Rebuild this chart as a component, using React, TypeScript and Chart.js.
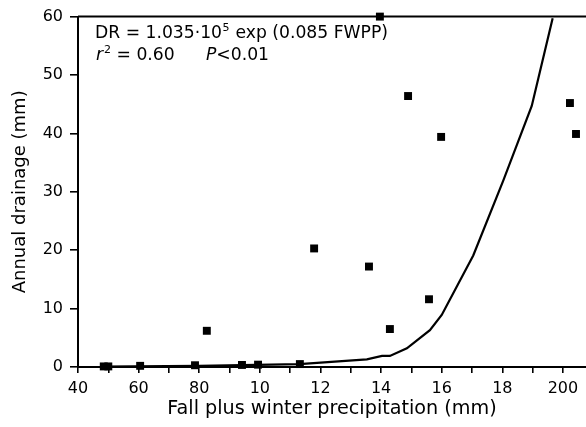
import React, { useEffect, useRef } from "react";
import { Chart, registerables } from "chart.js";

Chart.register(...registerables);

// Scatter observations (fall+winter precipitation, annual drainage)
const obsX = [485, 500, 605, 786, 825, 941, 994, 1132, 1179, 1360, 1396, 1429, 1489, 1558, 1598, 2023, 2043];
const obsY = [0.1, 0.1, 0.2, 0.3, 6.2, 0.35, 0.4, 0.5, 20.3, 17.2, 60, 6.5, 46.4, 11.6, 39.4, 45.2, 39.9];

// Fitted curve vertices
const fitX = [480, 800, 1130, 1353, 1403, 1429, 1485, 1561, 1600, 1704, 1803, 1897, 1919, 1966];
const fitY = [0.05, 0.2, 0.5, 1.3, 1.9, 1.9, 3.2, 6.3, 8.9, 19.1, 31.9, 44.7, 49.5, 59.7];

// Axis ticks
const majorTickValues = [400, 600, 800, 1000, 1200, 1400, 1600, 1800, 2000];
const majorTickLabels = ["40", "60", "80", "10", "12", "14", "16", "18", "200"];
const minorTickValues = [500, 700, 900, 1100, 1300, 1500, 1700, 1900];
const xMin = 400;
const xMax = 2076;
const yMin = 0;
const yMax = 60;
const yStep = 10;

const xTitle = "Fall plus winter precipitation (mm)";
const yTitle = "Annual drainage (mm)";

const FONT = "'DejaVu Sans', sans-serif";

const annotationPlugin = {
  id: "annot",
  afterDraw(chart: any) {
    const { ctx, chartArea } = chart;
    ctx.save();
    // top frame line
    ctx.strokeStyle = "#000";
    ctx.lineWidth = 2;
    ctx.beginPath();
    ctx.moveTo(chartArea.left, chartArea.top);
    ctx.lineTo(chartArea.right, chartArea.top);
    ctx.stroke();

    ctx.fillStyle = "#000";
    ctx.textBaseline = "alphabetic";
    ctx.textAlign = "left";
    const big = `17.2px ${FONT}`;
    const small = `11px ${FONT}`;
    // line 1
    let x = 95;
    let y = 38;
    ctx.font = big;
    const p1 = "DR = 1.035\u00b710";
    ctx.fillText(p1, x, y);
    x += ctx.measureText(p1).width;
    ctx.font = small;
    ctx.fillText("5", x + 0.5, y - 7);
    x += ctx.measureText("5").width + 1;
    ctx.font = big;
    ctx.fillText(" exp (0.085 FWPP)", x, y);
    // line 2
    x = 96;
    y = 60;
    ctx.font = `italic 17.2px ${FONT}`;
    ctx.fillText("r", x, y);
    x += ctx.measureText("r").width + 1;
    ctx.font = small;
    ctx.fillText("2", x, y - 7);
    x += ctx.measureText("2").width;
    ctx.font = big;
    ctx.fillText(" = 0.60", x, y);
    x = 206;
    ctx.font = `italic 17.2px ${FONT}`;
    ctx.fillText("P", x, y);
    x += ctx.measureText("P").width;
    ctx.font = big;
    ctx.fillText("<0.01", x, y);
    ctx.restore();
  },
};

export default function App() {
  const ref = useRef<HTMLCanvasElement | null>(null);
  useEffect(() => {
    if (!ref.current) return;
    const allTicks = [...majorTickValues, ...minorTickValues].sort((a, b) => a - b);
    const chart = new Chart(ref.current, {
      type: "scatter",
      data: {
        datasets: [
          {
            type: "line",
            data: fitX.map((v, i) => ({ x: v, y: fitY[i] })),
            borderColor: "#000",
            borderWidth: 2.2,
            pointRadius: 0,
            tension: 0,
            fill: false,
            clip: false,
          } as any,
          {
            type: "scatter",
            data: obsX.map((v, i) => ({ x: v, y: obsY[i] })),
            pointStyle: "rect",
            pointRadius: 5.6,
            backgroundColor: "#000",
            borderColor: "#000",
            borderWidth: 0,
            clip: false,
          } as any,
        ],
      },
      options: {
        animation: false,
        responsive: false,
        layout: { autoPadding: false, padding: { top: 15, right: 0, left: 0, bottom: 0 } },
        plugins: {
          legend: { display: false },
          tooltip: { enabled: false },
        },
        scales: {
          x: {
            type: "linear",
            min: xMin,
            max: xMax,
            afterBuildTicks: (scale: any) => {
              scale.ticks = allTicks.map((v) => ({ value: v }));
            },
            afterFit: (scale: any) => {
              scale.height = 60;
              scale.paddingRight = 0;
              scale.paddingLeft = 0;
            },
            ticks: {
              autoSkip: false,
              maxRotation: 0,
              padding: 6,
              color: "#000",
              font: { family: FONT, size: 16 },
              callback: (value: any) => {
                const i = majorTickValues.indexOf(Number(value));
                return i >= 0 ? majorTickLabels[i] : "";
              },
            },
            grid: {
              drawOnChartArea: false,
              drawTicks: true,
              tickLength: 6,
              color: "#000",
              lineWidth: 1.6,
            },
            border: { display: true, color: "#000", width: 2 },
            title: {
              display: true,
              text: xTitle,
              color: "#000",
              font: { family: FONT, size: 19.2 },
              padding: { top: 0, bottom: 6 },
            },
          },
          y: {
            type: "linear",
            min: yMin,
            max: yMax,
            afterFit: (scale: any) => {
              scale.width = 78;
            },
            ticks: {
              stepSize: yStep,
              padding: 7,
              color: "#000",
              font: { family: FONT, size: 16 },
            },
            grid: {
              drawOnChartArea: false,
              drawTicks: true,
              tickLength: 8,
              color: "#000",
              lineWidth: 1.6,
            },
            border: { display: true, color: "#000", width: 2 },
            title: {
              display: true,
              text: yTitle,
              color: "#000",
              font: { family: FONT, size: 18 },
              padding: { top: 10, bottom: 0 },
            },
          },
        },
      },
      plugins: [annotationPlugin],
    });
    return () => chart.destroy();
  }, []);
  return (
    <div style={{ position: "absolute", left: 0, top: 0, width: 586, height: 427, background: "#fff" }}>
      <canvas ref={ref} width={586} height={427} style={{ width: 586, height: 427, display: "block" }} />
    </div>
  );
}
